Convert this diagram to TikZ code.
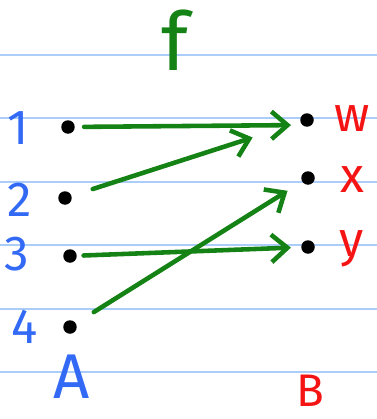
\documentclass[tikz,border=0pt]{standalone}
\usepackage{fontspec}
\setmainfont{Fira Sans}
\usetikzlibrary{positioning,arrows.meta}
\definecolor{penblue}{RGB}{50,105,245}
\definecolor{penred}{RGB}{245,20,20}
\definecolor{pengreen}{RGB}{20,130,20}
\definecolor{rule}{RGB}{170,205,250}

\begin{document}
\begin{tikzpicture}[
  x=0.02cm, y=-0.02cm,
  elem/.style={circle, fill=black, inner sep=0pt, minimum size=2.7mm},
  dom/.style={text=penblue, font=\fontsize{28}{28}\selectfont},
  cod/.style={text=penred, font=\fontsize{28}{28}\selectfont},
  map/.style={pengreen, line width=2.6pt, line cap=round, line join=round,
              -{Straight Barb[length=3.2mm, width=5.5mm, line width=2.6pt]}}
]
  \useasboundingbox (0,0) rectangle (377,419);

  % ruled paper
  \foreach \y in {55,118,182,245,309,372}
    \draw[rule, line width=1.1pt] (0,\y) -- (377,\y);

  % name of the function
  \node[text=pengreen, font=\fontsize{46}{46}\selectfont] (fname) at (175,40) {f};

  % set A (left)
  \node[elem] (a1) at (68,127) {};
  \node[elem] (a2) at (65,198) {};
  \node[elem] (a3) at (70,256) {};
  \node[elem] (a4) at (70,327) {};
  \node[dom] (l1) at (18,128) {1};
  \node[dom] (l2) at (20,200) {2};
  \node[dom] (l3) at (17,254) {3};
  \node[dom] (l4) at (25,327) {4};
  \node[dom, inner sep=0pt, font=\fontsize{36}{36}\selectfont] (setA) at (72,377) {A};

  % set B (right)
  \node[elem] (bw) at (307,120) {};
  \node[elem] (bx) at (308,178) {};
  \node[elem] (by) at (308,247) {};
  \node[cod] (lw) at (352,119) {w};
  \node[cod] (lx) at (352,180) {x};
  \node[cod] (ly) at (352,249) {y};
  \node[cod, inner sep=0pt, font=\fontsize{26}{26}\selectfont] (setB) at (310,391) {B};

  % the mapping
  \draw[map, shorten <=0.18cm, shorten >=0.22cm] (a1) -- (bw.south west);
  \draw[map, shorten <=0.44cm, shorten >=1cm] (a2) -- (bw);
  \draw[map, shorten <=0.13cm, shorten >=0.2cm] (a3) -- (by);
  \draw[map, shorten <=0.42cm, shorten >=0.34cm] (a4) -- (bx);
\end{tikzpicture}
\end{document}
